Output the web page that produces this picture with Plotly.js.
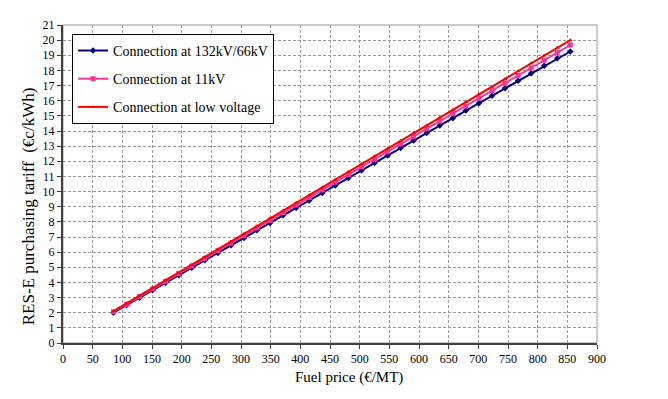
<!DOCTYPE html>
<html>
<head>
<meta charset="utf-8">
<script src="https://cdn.plot.ly/plotly-3.0.1.min.js"></script>
<style>
  html, body { margin: 0; padding: 0; background: #fff; }
  #chart { width: 668px; height: 399px; }
</style>
</head>
<body>
<div id="chart"></div>
<script>
// Fuel price (€/MT)
var fuel_price = [85, 107, 129, 151, 173, 195, 217, 239, 261, 283, 305, 327, 349, 371, 393, 415, 437, 459,
                  481, 503, 525, 547, 569, 591, 613, 635, 657, 679, 701, 723, 745, 767, 789, 811, 833, 855];

// Tariff (€c/kWh) per connection level
var tariff_132kv = [2.00, 2.49, 2.99, 3.48, 3.98, 4.47, 4.97, 5.46, 5.95, 6.45, 6.94, 7.44, 7.93, 8.43, 8.92, 9.41, 9.91, 10.40,
                    10.90, 11.39, 11.89, 12.38, 12.87, 13.37, 13.86, 14.36, 14.85, 15.35, 15.84, 16.33, 16.83, 17.32, 17.82, 18.31, 18.81, 19.25];
var tariff_11kv = [2.06, 2.56, 3.07, 3.57, 4.07, 4.58, 5.08, 5.58, 6.09, 6.59, 7.09, 7.60, 8.10, 8.60, 9.11, 9.61, 10.11, 10.62,
                   11.12, 11.63, 12.13, 12.63, 13.14, 13.64, 14.14, 14.65, 15.15, 15.65, 16.16, 16.66, 17.16, 17.67, 18.17, 18.67, 19.18, 19.68];
var tariff_lv = [2.10, 2.61, 3.12, 3.63, 4.15, 4.66, 5.17, 5.68, 6.19, 6.70, 7.21, 7.73, 8.24, 8.75, 9.26, 9.77, 10.28, 10.79,
                 11.31, 11.82, 12.33, 12.84, 13.35, 13.86, 14.37, 14.89, 15.40, 15.91, 16.42, 16.93, 17.44, 17.95, 18.47, 18.98, 19.49, 20.00];

var series_names = ['Connection at 132kV/66kV', 'Connection at 11kV', 'Connection at low voltage'];

var serif = 'Liberation Serif';

var trace_132 = {
    x: fuel_price,
    y: tariff_132kv,
    mode: 'lines+markers',
    name: series_names[0],
    legendgroup: 'a',
    line: {color: '#000080', width: 2},
    marker: {symbol: 'diamond', size: 5, color: '#000080'}
};
var trace_11 = {
    x: fuel_price,
    y: tariff_11kv,
    mode: 'lines+markers',
    name: series_names[1],
    legendgroup: 'b',
    line: {color: '#FF3399', width: 2},
    marker: {symbol: 'square', size: 5, color: '#FF3399'}
};
var trace_lv = {
    x: fuel_price,
    y: tariff_lv,
    mode: 'lines+markers',
    name: series_names[2],
    legendgroup: 'c',
    line: {color: '#FF0000', width: 2},
    marker: {symbol: 'triangle-up', size: 4, color: '#FF0000'}
};

var layout = {
    width: 668,
    height: 399,
    paper_bgcolor: '#fff',
    plot_bgcolor: '#fff',
    margin: {l: 63, r: 71, t: 25, b: 56},
    font: {family: serif, size: 12, color: '#000'},
    showlegend: true,
    legend: {
        x: 0.017, xanchor: 'left',
        y: 0.972, yanchor: 'top',
        bgcolor: '#fff',
        bordercolor: '#000',
        borderwidth: 1,
        itemwidth: 30,
        font: {family: serif, size: 14, color: '#000'},
        tracegroupgap: 7
    },
    xaxis: {
        range: [0, 900],
        dtick: 50,
        tick0: 0,
        showgrid: true,
        gridcolor: '#999',
        griddash: '3px,2px',
        gridwidth: 1,
        showline: true,
        linecolor: '#404040',
        linewidth: 2,
        ticks: 'outside',
        ticklen: 4,
        tickcolor: '#404040',
        zeroline: false
    },
    yaxis: {
        range: [0, 21],
        dtick: 1,
        tick0: 0,
        showgrid: true,
        gridcolor: '#999',
        griddash: '3px,2px',
        gridwidth: 1,
        showline: true,
        linecolor: '#404040',
        linewidth: 2,
        ticks: 'outside',
        ticklen: 4,
        tickcolor: '#404040',
        zeroline: false
    },
    annotations: [
        {text: 'Fuel price (€/MT)', xref: 'paper', yref: 'paper', x: 0.5356, y: -0.107,
         xanchor: 'center', yanchor: 'middle', showarrow: false, font: {family: serif, size: 15}},
        {text: 'RES-E purchasing tariff  (€c/kWh)', xref: 'paper', yref: 'paper', x: -0.0655, y: 0.43,
         xanchor: 'center', yanchor: 'middle', textangle: -90, showarrow: false, font: {family: serif, size: 17}}
    ],
    shapes: [{
        type: 'rect', xref: 'paper', yref: 'paper',
        x0: 0, x1: 1, y0: 0, y1: 1,
        line: {color: '#999', width: 1},
        layer: 'below'
    }]
};

Plotly.newPlot('chart', [trace_132, trace_11, trace_lv], layout, {displayModeBar: false, staticPlot: true});
</script>
</body>
</html>
